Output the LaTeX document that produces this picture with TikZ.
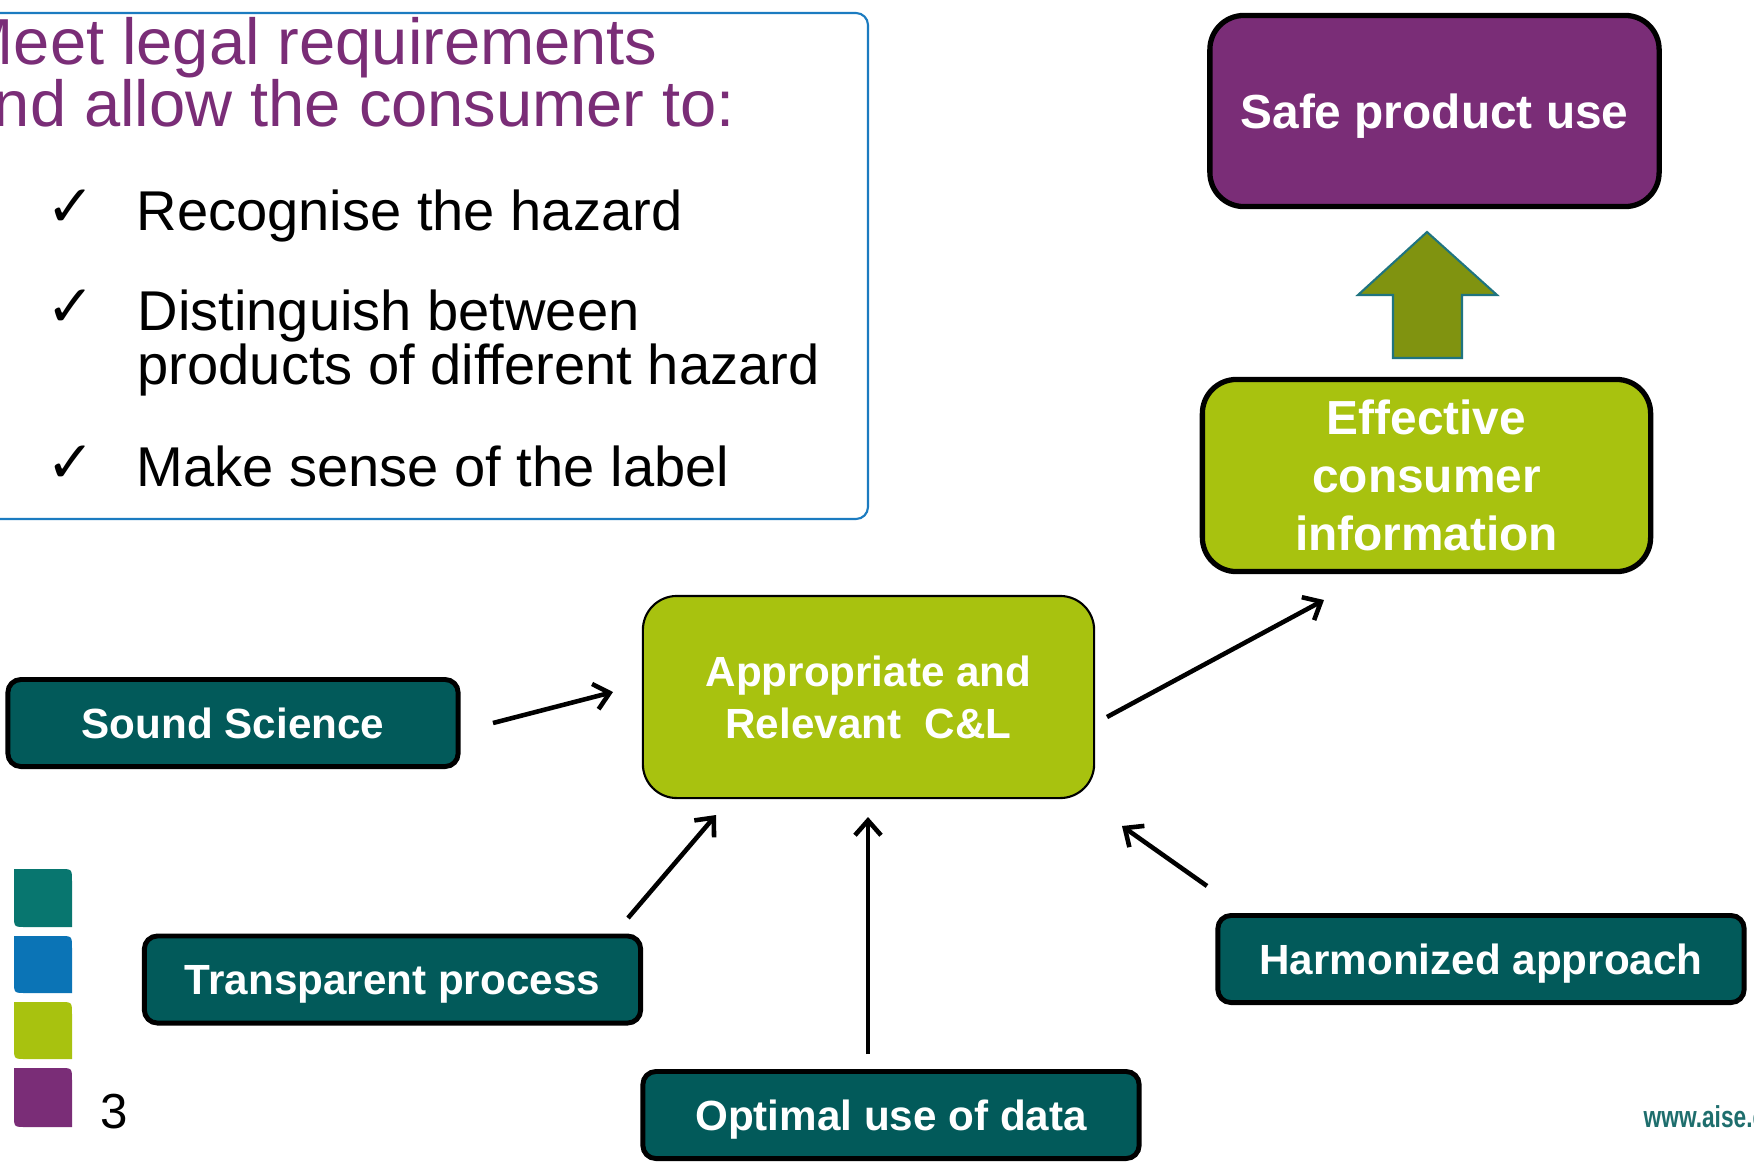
\documentclass[tikz,border=0pt]{standalone}
\usepackage{fontspec}
\setmainfont{Liberation Sans}
\newfontfamily\symbolfont{DejaVu Sans}
\usetikzlibrary{arrows.meta}

\definecolor{aisepurple}{HTML}{7A2D77}
\definecolor{aiselime}{HTML}{A8C20F}
\definecolor{aiseteal}{HTML}{025A5A}
\definecolor{aiseolive}{HTML}{809310}
\definecolor{aiseblue}{HTML}{1B7BC0}
\definecolor{arrowedge}{HTML}{1F7480}
\definecolor{logoteal}{HTML}{08766F}
\definecolor{logoblue}{HTML}{0B74B6}
\definecolor{urlteal}{HTML}{1E6E6D}

\tikzset{
  bigbox/.style={draw=black, line width=1.5pt, rounded corners=0.34cm,
    text=white, inner sep=0pt, align=center,
    font=\bfseries\fontsize{13.6}{16.5}\selectfont},
  clbox/.style={draw=black, line width=0.6pt, rounded corners=0.34cm,
    fill=aiselime, text=white, inner sep=0pt, align=center,
    font=\bfseries\fontsize{12}{14.8}\selectfont},
  factor/.style={draw=black, line width=1.4pt, rounded corners=0.13cm,
    fill=aiseteal, text=white, inner sep=0pt, minimum height=0.87cm,
    text height=8.6pt, text depth=0pt,
    font=\bfseries\fontsize{12}{14.8}\selectfont},
  flow/.style={line width=1.3pt, -{Straight Barb[length=4.2pt,width=7.4pt]}},
  heading/.style={anchor=base west, inner sep=0pt, text=aisepurple,
    font=\fontsize{18.5}{22}\selectfont},
  point/.style={anchor=base west, inner sep=0pt,
    font=\fontsize{15.95}{19}\selectfont},
  tick/.style={anchor=base west, inner sep=0pt,
    font=\symbolfont\fontsize{16.5}{16.5}\selectfont},
}

% logo tile with rounded top-right and bottom-left corners
\newcommand{\logotile}[3]{%
  \fill[#1] (14,#2) -- (60,#2) .. controls (72,#2) .. (72,#2+12)
    -- (72,#3) -- (26,#3) .. controls (14,#3) .. (14,#3-12) -- cycle;}

\begin{document}
\begin{tikzpicture}[x=0.01cm, y=-0.01cm]
  \useasboundingbox (0,0) rectangle (1754,1169);
  \clip (0,0) rectangle (1754,1169);
  \fill[white] (0,0) rectangle (1754,1169);

  % objectives panel
  \draw[aiseblue, line width=0.6pt, rounded corners=0.12cm]
    (-20,13) -- (868,13) -- (868,519) -- (-20,519);
  \node[heading] (head1) at (-41,64) {Meet legal requirements};
  \node[heading] (head2) at (-43,126) {and allow the consumer to:};

  \node[tick] (c1) at (46,226) {✓};
  \node[point] (p1) at (136,230) {Recognise the hazard};
  \node[tick] (c2) at (46,326) {✓};
  \node[point] (p2a) at (137,330) {Distinguish between};
  \node[point] (p2b) at (137,384) {products of different hazard};
  \node[tick] (c3) at (46,482) {✓};
  \node[point] (p3) at (136,486) {Make sense of the label};

  % outcome chain
  \node[bigbox, fill=aisepurple, minimum width=4.49cm, minimum height=1.91cm,
    text height=9.7pt, text depth=0pt] (safe) at (1434.5,111) {Safe product use};
  \node[bigbox, fill=aiselime, minimum width=4.48cm, minimum height=1.92cm]
    (eff) at (1426.5,475.5) {Effective\\consumer\\information};
  \node[clbox, minimum width=4.51cm, minimum height=2.02cm]
    (cl) at (868.5,697) {Appropriate and\\Relevant~~C\&L};

  \draw[fill=aiseolive, draw=arrowedge, line width=0.6pt]
    (1427,232) -- (1497,295) -- (1462,295) -- (1462,358)
    -- (1393,358) -- (1393,295) -- (1358,295) -- cycle;

  % contributing factors
  \node[factor, minimum width=4.5cm] (sound) at (233,723) {Sound Science};
  \node[factor, minimum width=4.96cm] (transp) at (392.5,979.5) {Transparent process};
  \node[factor, minimum width=4.96cm] (optimal) at (891,1115) {Optimal use of data};
  \node[factor, minimum width=5.26cm] (harm) at (1481,959) {Harmonized approach};

  % connector end points
  \coordinate (sA) at (493,723);   \coordinate (sB) at (613,692);
  \coordinate (eA) at (1107,717);  \coordinate (eB) at (1324,600);
  \coordinate (tA) at (628,918);   \coordinate (tB) at (716,815);
  \coordinate (oA) at (868,1054);  \coordinate (oB) at (868,817);
  \coordinate (hA) at (1207,886);  \coordinate (hB) at (1122,826);

  \draw[flow] (sA) -- (sB);
  \draw[flow] (eA) -- (eB);
  \draw[flow] (tA) -- (tB);
  \draw[flow] (oA) -- (oB);
  \draw[flow] (hA) -- (hB);

  % logo tiles, page number, web address
  \logotile{logoteal}{869}{927}
  \logotile{logoblue}{936}{993}
  \logotile{aiselime}{1002}{1059}
  \logotile{aisepurple}{1068}{1127}
  \node[anchor=base west, inner sep=0pt, font=\fontsize{14}{14}\selectfont]
    (pagenum) at (100,1128) {3};
  \node[anchor=base west, inner sep=0pt, text=urlteal,
    font=\bfseries\fontsize{8.6}{10}\selectfont]
    (url) at (1643,1127) {\scalebox{0.75}[1]{www.aise.eu}};
\end{tikzpicture}
\end{document}
